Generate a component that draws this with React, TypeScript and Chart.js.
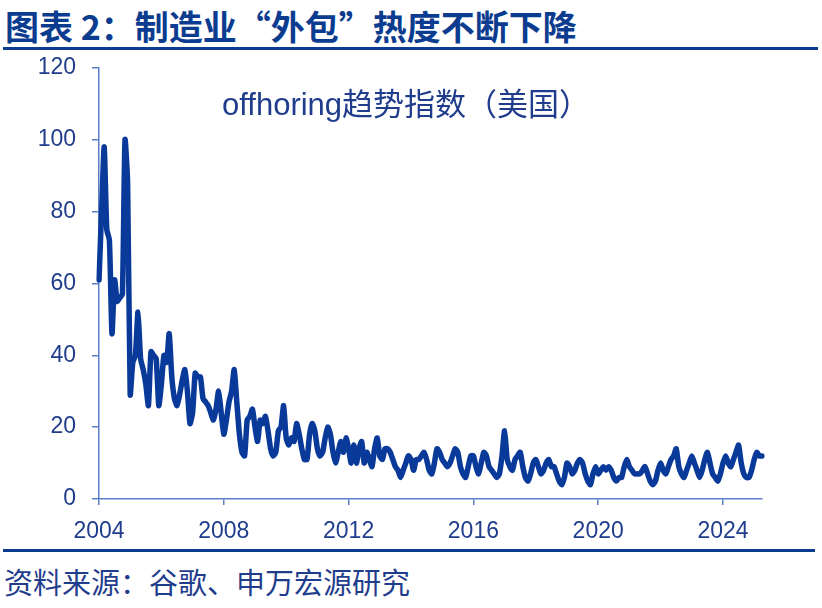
import React, { useEffect, useRef } from "react";
import { Chart, registerables } from "chart.js";

Chart.register(...registerables);

const startYear = 2004;
const v2004 = [61, 80, 98, 75, 72, 46, 61, 55, 56, 57, 100, 88];
const v2005 = [29, 38, 40, 52, 39, 36, 32, 26, 41, 40, 39, 26];
const v2006 = [32, 40, 38, 46, 34, 28, 26, 29, 33, 36, 30, 21];
const v2007 = [24, 35, 34, 34, 28, 27, 26, 24, 22, 25, 30, 24];
const v2008 = [18, 22, 27, 30, 36, 27, 18, 13, 12, 22, 23, 25];
const v2009 = [20, 16, 22, 21, 23, 19, 14, 12, 13, 19, 20, 26];
const v2010 = [17, 15, 17, 16, 21, 18, 14, 11, 11, 18, 21, 19];
const v2011 = [14, 12, 13, 17, 20, 18, 13, 10, 13, 16, 13, 17];
const v2012 = [14, 10, 15, 10, 14, 16, 10, 13, 11, 9, 14, 17];
const v2013 = [12, 11, 14, 14, 13, 11, 9, 8, 6, 8, 10, 12];
const v2014 = [11, 8, 11, 11, 12, 13, 11, 8, 7, 10, 14, 13];
const v2015 = [11, 10, 9, 10, 12, 14, 13, 9, 7, 6, 9, 12];
const v2016 = [12, 9, 7, 10, 13, 12, 9, 8, 7, 6, 7, 12];
const v2017 = [19, 11, 9, 8, 11, 12, 13, 9, 6, 5, 7, 10];
const v2018 = [11, 9, 7, 8, 10, 11, 9, 9, 7, 5, 4, 6];
const v2019 = [10, 9, 7, 8, 10, 11, 10, 7, 5, 4, 7, 9];
const v2020 = [7, 8, 9, 8, 9, 8, 6, 5, 6, 6, 9, 11];
const v2021 = [9, 8, 7, 7, 7, 8, 9, 7, 5, 4, 5, 8];
const v2022 = [10, 8, 7, 9, 11, 12, 14, 9, 7, 6, 8, 10];
const v2023 = [12, 10, 8, 6, 8, 11, 13, 10, 7, 6, 5, 7];
const v2024 = [10, 12, 10, 9, 11, 13, 15, 10, 7, 6, 6, 8];
const v2025 = [11, 13, 12, 12];

const values = [
  ...v2004, ...v2005, ...v2006, ...v2007, ...v2008, ...v2009, ...v2010,
  ...v2011, ...v2012, ...v2013, ...v2014, ...v2015, ...v2016, ...v2017,
  ...v2018, ...v2019, ...v2020, ...v2021, ...v2022, ...v2023, ...v2024,
  ...v2025,
];

const monthLabels = values.map(
  (_, i) => `${startYear + Math.floor(i / 12)}-${String((i % 12) + 1).padStart(2, "0")}`
);
const tickYears = ["2004", "2008", "2012", "2016", "2020", "2024"];
const yMin = 0;
const yMax = 120;
const yStep = 20;

const titleText = "图表 2：制造业“外包”热度不断下降";
const seriesName = "offhoring趋势指数（美国）";
const sourceText = "资料来源：谷歌、申万宏源研究";

const DARK = "#0b3c8f";
const TEXT = "#1f3d8c";
const LINE = "#0a3a99";
const AXIS = "#5b7fc6";
const FONT = "'Liberation Sans', 'Noto Sans CJK SC', sans-serif";
const CJK = "'Noto Sans CJK SC', 'Liberation Sans', sans-serif";

export default function App() {
  const ref = useRef<HTMLCanvasElement | null>(null);

  useEffect(() => {
    if (!ref.current) return;
    const chart = new Chart(ref.current, {
      type: "line",
      data: {
        labels: monthLabels,
        datasets: [
          {
            data: values,
            borderColor: LINE,
            borderWidth: 5.5,
            pointRadius: 0,
            tension: 0.2,
            borderJoinStyle: "round",
            borderCapStyle: "round",
            fill: false,
          },
        ],
      },
      options: {
        animation: false,
        responsive: false,
        maintainAspectRatio: false,
        layout: { padding: { top: 12, right: 60, left: 0, bottom: 0 } },
        plugins: { legend: { display: false }, tooltip: { enabled: false }, title: { display: false } },
        scales: {
          x: {
            type: "category",
            offset: false,
            grid: { drawOnChartArea: false, drawTicks: true, tickLength: 6, color: AXIS, lineWidth: 1.5 },
            border: { color: AXIS, width: 1.5 },
            ticks: {
              autoSkip: false,
              maxRotation: 0,
              minRotation: 0,
              padding: 13,
              color: TEXT,
              font: { family: FONT, size: 23 },
              callback: (_v: any, i: number) => {
                const y = monthLabels[i].slice(0, 4);
                return monthLabels[i].endsWith("-01") && tickYears.includes(y) ? y : null;
              },
            },
            afterFit: (s: any) => {
              s.height = 51;
            },
          },
          y: {
            min: yMin,
            max: yMax,
            grid: { drawOnChartArea: false, drawTicks: true, tickLength: 7, color: AXIS, lineWidth: 1.5 },
            border: { color: AXIS, width: 1.5 },
            ticks: {
              stepSize: yStep,
              padding: 16,
              color: TEXT,
              font: { family: FONT, size: 23 },
            },
            afterFit: (s: any) => {
              s.width = 99;
            },
          },
        },
      },
    } as any);
    return () => chart.destroy();
  }, []);

  return (
    <div style={{ position: "fixed", left: 0, top: 0, width: 822, height: 608, background: "#fff", overflow: "hidden" }}>
      <div
        style={{
          position: "absolute", left: 5, top: 7, fontSize: 34, lineHeight: "38px", fontWeight: 700,
          color: DARK, fontFamily: CJK, whiteSpace: "nowrap",
        }}
      >
        {titleText}
      </div>
      <div style={{ position: "absolute", left: 3, top: 47, width: 815, height: 3, background: DARK }} />
      <canvas ref={ref} width={822} height={512} style={{ position: "absolute", left: 0, top: 38, width: 822, height: 512 }} />
      <div
        style={{
          position: "absolute", left: 222, top: 87, fontSize: 31, lineHeight: "35px",
          color: TEXT, fontFamily: FONT, whiteSpace: "nowrap",
        }}
      >
        {seriesName}
      </div>
      <div style={{ position: "absolute", left: 3, top: 549, width: 812, height: 3, background: DARK }} />
      <div
        style={{
          position: "absolute", left: 4, top: 568, fontSize: 29, lineHeight: "33px",
          color: TEXT, fontFamily: FONT, whiteSpace: "nowrap",
        }}
      >
        {sourceText}
      </div>
    </div>
  );
}
